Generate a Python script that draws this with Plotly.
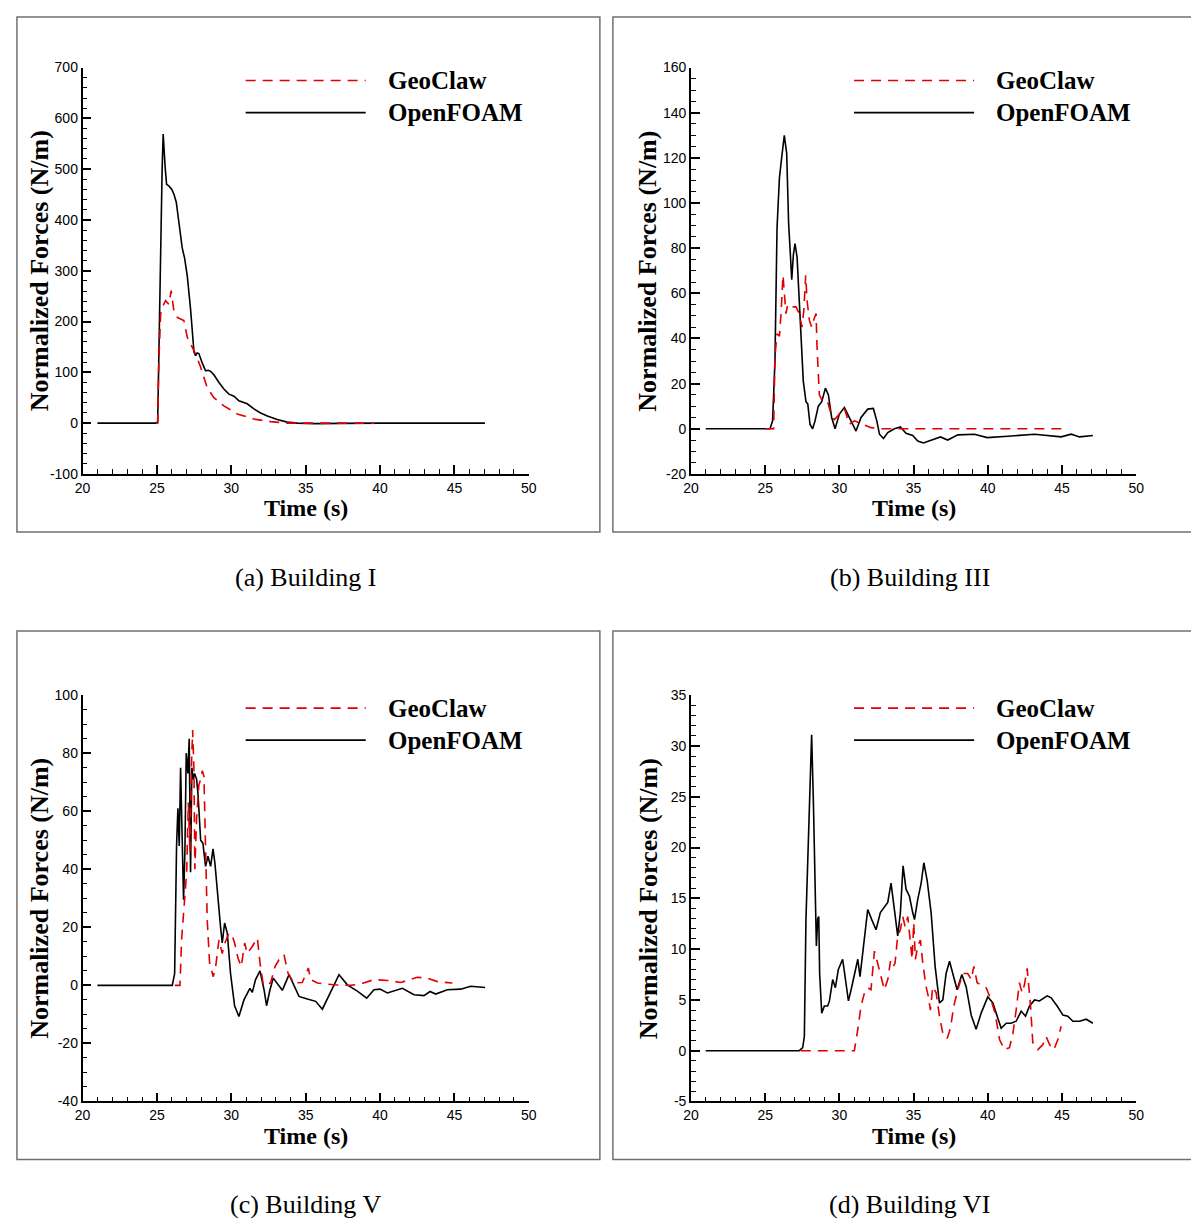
import plotly.graph_objects as go

# figure size and the observed placement of the figure in the photographed page
FW, FH = 1199, 1222
PAGE_OFF, PAGE_SCALE = 15.5, 0.986

# ---------------- data ----------------
# (a) Building I
a_of_t = [21, 24.9, 25.05, 25.15, 25.27, 25.35, 25.42, 25.47, 25.55, 25.65, 25.8, 26.0, 26.15, 26.3, 26.5, 26.7,
          26.86, 27.04, 27.26, 27.49, 27.6, 27.7, 27.82, 27.95, 28.05, 28.27, 28.45, 28.61, 28.83, 29.17, 29.5,
          29.84, 30.18, 30.51, 31.07, 31.52, 31.97, 32.42, 33.09, 33.76, 34.44, 35.56, 36.68, 37.5, 40, 47.05]
a_of_f = [0, 0, 2, 200, 420, 500, 569, 540, 505, 470, 467, 460, 450, 435, 390, 345,
          325, 290, 225, 140, 133, 138, 137, 125, 118, 103, 104, 102, 95, 80, 67,
          57, 53, 44, 38, 28, 20, 14, 7, 2, 0, -1, 0, -0.5, 0, 0]
a_gc_t = [25.0, 25.05, 25.13, 25.25, 25.36, 25.58, 25.8, 25.96, 26.14, 26.37, 26.59, 26.81, 27.04, 27.26, 27.6,
          27.94, 28.38, 28.83, 29.5, 30.4, 31.52, 32.64, 33.76, 35.56, 37.5, 39.6]
a_gc_f = [0, 0, 123, 215, 228, 241, 234, 261, 221, 208, 205, 202, 169, 156, 136,
          110, 70, 50, 34, 18, 8, 3, 0, 0, 0, 0]

# (b) Building III
b_of_t = [21, 25.33, 25.5, 25.66, 25.8, 25.96, 26.11, 26.29, 26.45, 26.58, 26.7, 26.79, 26.9, 27.01, 27.15, 27.3,
          27.42, 27.57, 27.75, 27.87, 28.02, 28.2, 28.36, 28.58, 28.81, 29.06, 29.26, 29.48, 29.71, 30.0, 30.34,
          30.67, 31.12, 31.46, 31.91, 32.29, 32.52, 32.7, 32.97, 33.26, 33.71, 34.11, 34.49, 34.94, 35.28, 35.66,
          36.18, 36.81, 37.3, 37.98, 39.1, 39.96, 41.35, 43.15, 44.94, 45.62, 46.18, 47.08]
b_of_f = [0, 0, 3.5, 30, 89, 111, 120, 130, 122, 91, 77, 66, 77, 82, 76, 57,
          45, 21, 12, 11, 2, 0, 3.5, 10, 12, 18, 15, 5, 0, 6.5, 9.4,
          5, -1, 5, 8.7, 9, 3.5, -2.4, -4.3, -1.7, 0, 0.8, -2, -3, -5.4, -6.3,
          -5, -3.6, -5, -2.7, -2.4, -3.9, -3.3, -2.4, -3.6, -2.4, -3.6, -3]
b_gc_t = [25.0, 25.57, 25.66, 25.8, 25.96, 26.07, 26.2, 26.29, 26.4, 26.52, 26.74, 27.08, 27.3, 27.48, 27.6, 27.73,
          27.82, 27.98, 28.13, 28.31, 28.43, 28.49, 28.65, 28.88, 29.21, 29.44, 29.66, 30.0, 30.34, 30.67, 31.01,
          31.57, 32.13, 32.81, 35.0, 37.0, 40.0, 43.0, 45.0]
b_gc_f = [0, 0, 32, 42, 41, 51, 68, 60, 51, 55, 54, 54, 51, 45, 52, 68,
          57, 48, 45, 49, 51, 37, 15, 12, 12, 6.5, 4, 6.5, 9, 2, 3.5,
          2, 0.5, 0, 0, 0.3, 0.2, 0.1, 0]

# (c) Building V
c_of_t = [21, 26.03, 26.19, 26.32, 26.41, 26.5, 26.59, 26.68, 26.79, 26.88, 26.97, 27.08, 27.17, 27.26, 27.35,
          27.44, 27.53, 27.67, 27.76, 27.94, 28.09, 28.27, 28.43, 28.61, 28.77, 28.9, 29.1, 29.28, 29.39, 29.55,
          29.73, 29.95, 30.22, 30.51, 30.85, 31.07, 31.25, 31.41, 31.63, 31.93, 32.2, 32.37, 32.6, 32.82, 33.16,
          33.43, 33.88, 34.21, 34.55, 35.11, 35.67, 36.12, 36.63, 37.24, 37.8, 38.47, 39.1, 39.59, 40.0, 40.49,
          41.5, 42.28, 42.95, 43.36, 43.74, 44.52, 45.42, 46.09, 47.06]
c_of_f = [0, 0, 4, 48, 61, 48, 75, 57, 29.5, 46, 80, 73, 85, 39, 75,
          71, 73, 71, 66, 50, 49, 41, 44.5, 41, 47, 42, 29.5, 20, 14.6, 21.5,
          18, 4, -7, -10.7, -5, -2.6, -1, -2.4, 2, 5, -1.5, -7, -1.5, 2.5, 0,
          -1.7, 3.7, 0, -3.8, -4.7, -5.5, -8.2, -2.6, 3.7, 0.2, -2, -4.4, -1.5, -1.3, -2.6,
          -1, -3.2, -3.5, -2.1, -3, -1.5, -1.3, -0.3, -0.7]
c_gc_t = [26.2, 26.55, 26.66, 26.82, 27.0, 27.11, 27.22, 27.33, 27.4, 27.49, 27.55, 27.67, 27.82, 27.94, 28.05,
          28.16, 28.27, 28.38, 28.54, 28.79, 28.95, 29.17, 29.39, 29.57, 29.84, 30.07, 30.22, 30.45, 30.67, 30.9,
          31.07, 31.41, 31.75, 31.93, 32.15, 32.64, 32.94, 33.2, 33.54, 33.81, 34.21, 34.77, 35.18, 35.33, 35.78,
          36.9, 38.02, 38.7, 39.59, 40.49, 41.39, 42.51, 43.18, 43.85, 44.86]
c_gc_f = [0, 0, 16, 28, 39, 63, 46, 77, 88, 74, 40, 58, 69, 71, 74,
          72, 50, 22.6, 7.7, 3, 6.5, 15.7, 11, 14.6, 18, 17, 14.6, 9.4, 6.5, 14.6,
          11, 13.4, 16.3, 7.7, 0.2, 0.8, 6.5, 8.8, 10.6, 4.2, 0.8, 1, 6, 2, 0.8,
          0.2, 0, 0.5, 2, 1.7, 1, 2.8, 2.5, 1.3, 0.8]

# (d) Building VI
d_of_t = [21, 27.3, 27.53, 27.64, 27.75, 27.91, 28.04, 28.13, 28.25, 28.36, 28.45, 28.54, 28.61, 28.67, 28.81,
          28.99, 29.21, 29.33, 29.55, 29.73, 29.93, 30.22, 30.4, 30.61, 30.79, 31.01, 31.24, 31.39, 31.57, 31.91,
          32.18, 32.47, 32.76, 33.08, 33.26, 33.48, 33.71, 33.93, 34.11, 34.29, 34.49, 34.72, 34.94, 35.06, 35.28,
          35.51, 35.69, 35.91, 36.18, 36.45, 36.74, 36.97, 37.19, 37.42, 37.64, 37.93, 38.25, 38.54, 38.88, 39.21,
          39.55, 40.0, 40.34, 40.63, 40.9, 41.24, 41.57, 41.91, 42.25, 42.54, 42.81, 43.15, 43.48, 44.0, 44.27,
          44.67, 45.06, 45.39, 45.73, 46.18, 46.63, 47.08]
d_of_f = [0, 0, 0.3, 1.4, 13, 20, 27.7, 31.1, 24.4, 17.8, 10.3, 13, 13.2, 7.6, 3.7,
          4.4, 4.4, 4.9, 7, 6.2, 8, 9, 7.3, 4.9, 6, 7.6, 9, 7.3, 9.6, 13.9,
          12.9, 11.9, 13.6, 14.2, 14.6, 16.5, 13.6, 11.3, 13.6, 18.2, 15.9, 15.2, 13.6, 12.9, 14.9,
          16.5, 18.5, 16.8, 13.6, 8.3, 4.7, 5, 7.6, 8.8, 7.6, 6, 7.5, 6.3, 3.5, 2.1,
          3.7, 5.3, 4.7, 3.4, 2.2, 2.7, 2.7, 2.9, 3.9, 3.4, 4.4, 5, 4.9, 5.4, 5.2,
          4.4, 3.5, 3.4, 2.9, 2.9, 3.1, 2.7]
d_gc_t = [27.4, 31.01, 31.24, 31.46, 31.69, 31.91, 32.13, 32.25, 32.36, 32.58, 32.81, 33.03, 33.26, 33.44, 33.6,
          33.75, 33.93, 34.11, 34.27, 34.43, 34.61, 34.76, 34.9, 35.01, 35.12, 35.28, 35.46, 35.62, 35.84, 36.0,
          36.13, 36.29, 36.52, 36.74, 36.97, 37.26, 37.48, 37.71, 37.98, 38.31, 38.65, 38.88, 39.06, 39.28, 39.55,
          39.89, 40.22, 40.49, 40.79, 41.12, 41.46, 41.69, 41.91, 42.13, 42.31, 42.47, 42.65, 42.76, 42.88, 43.03,
          43.37, 43.71, 43.93, 44.16, 44.45, 44.72, 44.94]
d_gc_f = [0, 0, 2.1, 4.4, 5.7, 6.2, 6, 8.3, 9.8, 8.6, 7.3, 6, 7, 8.8, 8.2,
          8.6, 11.3, 11.9, 13.2, 12.2, 13.2, 10.9, 9, 12.6, 9, 10.3, 10.9, 8.6, 6.3, 5.3,
          4, 6.3, 5.7, 3.4, 1.7, 1.2, 2.2, 4.4, 6, 7.6, 7.6, 7, 8.3, 6.7, 6.5,
          6.2, 5, 3.7, 1.1, 0.1, 0.3, 1.7, 4, 6.7, 5.7, 6.5, 8.1, 6.3, 4.4, 0.8,
          0.1, 0.6, 1.4, 0.6, 0.1, 1.1, 2.4]

x_range = [20, 50]
x_ticks = [20, 25, 30, 35, 40, 45, 50]
y_ranges = [[-100, 700], [-20, 160], [-40, 100], [-5, 35]]
y_ticks = [[-100, 0, 100, 200, 300, 400, 500, 600, 700],
           [-20, 0, 20, 40, 60, 80, 100, 120, 140, 160],
           [-40, -20, 0, 20, 40, 60, 80, 100],
           [-5, 0, 5, 10, 15, 20, 25, 30, 35]]
y_minor = [20, 5, 5, 1]
captions = ["(a) Building I", "(b) Building III", "(c) Building V", "(d) Building VI"]
series_names = ["GeoClaw", "OpenFOAM"]
x_title = "Time (s)"
y_title = "Normalized Forces (N/m)"

panels = [
    (a_gc_t, a_gc_f, a_of_t, a_of_f),
    (b_gc_t, b_gc_f, b_of_t, b_of_f),
    (c_gc_t, c_gc_f, c_of_t, c_of_f),
    (d_gc_t, d_gc_f, d_of_t, d_of_f),
]

# ---------------- layout geometry (pixels of the reference picture) ----------------
boxes = [(82, 528, 67, 473), (690, 1135, 67, 473), (82, 528, 694, 1100), (690, 1135, 694, 1100)]
frames = [(5, 3, 599, 531), (612, 3, 1205, 531), (5, 630, 599, 1158), (612, 630, 1205, 1158)]

RED = "#e00000"
SERIF = "Liberation Serif, Times New Roman, serif"
SANS = "Liberation Sans, Arial, sans-serif"


def to_fig(v):
    return (v - PAGE_OFF) / PAGE_SCALE


def px(x):
    return to_fig(x) / FW


def py(y):
    return 1 - to_fig(y) / FH


def clampx(x):
    return min(max(px(x), 0.0008), 0.9992)


def clampy(y):
    return min(max(py(y), 0.0008), 0.9992)


fig = go.Figure()
shapes = []
annotations = []
layout = {}

for i, (gt, gf, ot, of) in enumerate(panels):
    n = "" if i == 0 else str(i + 1)
    xa, ya = "x" + n, "y" + n
    fig.add_trace(go.Scatter(x=ot, y=of, mode="lines", xaxis=xa, yaxis=ya, showlegend=False,
                             line=dict(color="black", width=1.6)))
    fig.add_trace(go.Scatter(x=gt, y=gf, mode="lines", xaxis=xa, yaxis=ya, showlegend=False,
                             line=dict(color=RED, width=1.6, dash="10px,7px")))
    x0, x1, yt, yb = boxes[i]
    common = dict(showline=True, linecolor="black", linewidth=1.6, ticks="inside", ticklen=9,
                  tickwidth=1.5, tickcolor="black", showgrid=False, zeroline=False,
                  tickfont=dict(family=SANS, size=14, color="black"), mirror=False)
    layout["xaxis" + n] = dict(domain=[px(x0), px(x1)], range=x_range, anchor=ya,
                               tickmode="array", tickvals=x_ticks, ticktext=[str(v) for v in x_ticks],
                               minor=dict(dtick=1, tick0=20, ticks="inside", ticklen=5, tickwidth=1,
                                          tickcolor="black"),
                               **common)
    layout["yaxis" + n] = dict(domain=[py(yb), py(yt)], range=y_ranges[i], anchor=xa,
                               tickmode="array", tickvals=y_ticks[i], ticktext=[str(v) for v in y_ticks[i]],
                               minor=dict(dtick=y_minor[i], tick0=0, ticks="inside", ticklen=5, tickwidth=1,
                                          tickcolor="black"),
                               **common)
    # panel frame
    fx0, fy0, fx1, fy1 = frames[i]
    shapes.append(dict(type="rect", xref="paper", yref="paper", x0=clampx(fx0), x1=clampx(fx1),
                       y0=clampy(fy1), y1=clampy(fy0),
                       line=dict(color="#707070", width=1.5), layer="below"))
    # legend samples
    lx0 = x0 + 163
    lx1 = x0 + 283
    ly1 = yt + 13
    ly2 = yt + 45
    shapes.append(dict(type="line", xref="paper", yref="paper", x0=px(lx0), x1=px(lx1), y0=py(ly1), y1=py(ly1),
                       line=dict(color=RED, width=1.6, dash="10px,7px")))
    shapes.append(dict(type="line", xref="paper", yref="paper", x0=px(lx0), x1=px(lx1), y0=py(ly2), y1=py(ly2),
                       line=dict(color="black", width=1.6)))
    for name, ly in zip(series_names, [ly1, ly2]):
        annotations.append(dict(text="<b>%s</b>" % name, xref="paper", yref="paper", x=px(x0 + 303), y=py(ly),
                                xanchor="left", yanchor="middle", showarrow=False,
                                font=dict(family=SERIF, size=25, color="black")))
    # axis titles
    annotations.append(dict(text="<b>%s</b>" % x_title, xref="paper", yref="paper", x=px((x0 + x1) / 2),
                            y=py(yb + 34), xanchor="center", yanchor="middle", showarrow=False,
                            font=dict(family=SERIF, size=24, color="black")))
    annotations.append(dict(text="<b>%s</b>" % y_title, xref="paper", yref="paper", x=px(x0 - 43),
                            y=py((yt + yb) / 2), xanchor="center", yanchor="middle", showarrow=False,
                            textangle=-90, font=dict(family=SERIF, size=26, color="black")))
    # caption
    annotations.append(dict(text=captions[i], xref="paper", yref="paper", x=px((fx0 + min(fx1, 1199)) / 2 + 3),
                            y=py(fy1 + 45), xanchor="center", yanchor="middle", showarrow=False,
                            font=dict(family=SERIF, size=26, color="black")))

fig.update_layout(width=FW, height=FH, margin=dict(l=0, r=0, t=0, b=0), paper_bgcolor="white",
                  plot_bgcolor="white", showlegend=False, shapes=shapes, annotations=annotations, **layout)

fig.write_html("out.html")
